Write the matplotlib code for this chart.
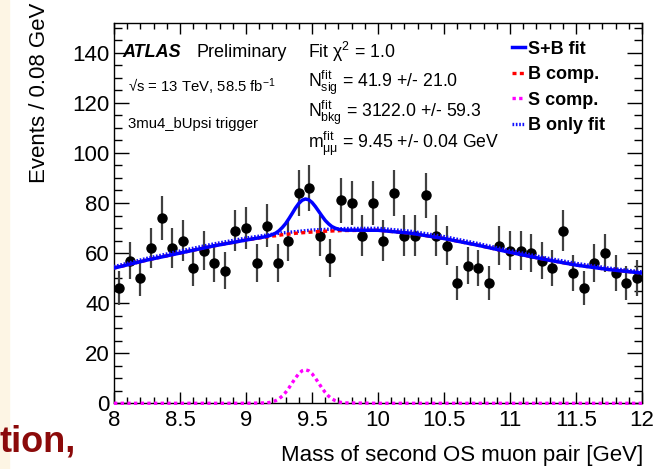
import numpy as np
import matplotlib
matplotlib.use('Agg')
import matplotlib.pyplot as plt
from matplotlib.ticker import MultipleLocator
from matplotlib.patches import Rectangle

plt.rcParams['font.family'] = ['Liberation Sans', 'DejaVu Sans']
plt.rcParams['mathtext.fontset'] = 'custom'
plt.rcParams['mathtext.rm'] = 'Liberation Sans'
plt.rcParams['mathtext.it'] = 'Liberation Sans:italic'
plt.rcParams['mathtext.bf'] = 'Liberation Sans:bold'

# histogram, 50 bins of 0.08 GeV between 8 and 12
edges = np.linspace(8.0, 12.0, 51)
counts = [46, 57, 50, 62, 74, 62, 65, 54, 61, 56,
          53, 69, 70, 56, 71, 56, 65, 84, 86, 67,
          58, 81, 80, 67, 80, 65, 84, 67, 67, 83,
          67, 63, 48, 55, 54, 48, 63, 61, 61, 60,
          57, 54, 69, 52, 46, 56, 60, 52, 48, 50]

# fit curves
curve_x = [8.0, 8.25, 8.5, 8.75, 9.0,
           9.15, 9.175, 9.2, 9.225, 9.25, 9.275, 9.3, 9.325, 9.35, 9.375,
           9.4, 9.425, 9.45, 9.475, 9.5, 9.525, 9.55, 9.575, 9.6, 9.625,
           9.65, 9.675, 9.7, 9.725, 9.75,
           10.0, 10.25, 10.5, 10.75, 11.0, 11.25, 11.5, 11.75, 12.0]
b_comp = [54.0, 57.2, 60.0, 62.8, 65.2,
          66.4, 66.6, 66.8, 66.9, 67.1, 67.3, 67.4, 67.6, 67.7, 67.9,
          68.0, 68.1, 68.2, 68.3, 68.4, 68.5, 68.6, 68.7, 68.7, 68.8,
          68.8, 68.9, 68.9, 69.0, 69.0,
          69.1, 67.9, 65.8, 63.2, 60.3, 57.6, 55.2, 53.4, 52.0]
s_comp = [0, 0, 0, 0, 0,
          0.15, 0.31, 0.59, 1.07, 1.81, 2.90, 4.35, 6.13, 8.13, 10.11,
          11.83, 12.99, 13.4, 12.99, 11.83, 10.11, 8.13, 6.13, 4.35, 2.90,
          1.81, 1.07, 0.59, 0.31, 0.15,
          0, 0, 0, 0, 0, 0, 0, 0, 0]
bonly_x = [8.0, 8.25, 8.5, 8.75, 9.0, 9.25, 9.5, 9.75, 10.0,
           10.25, 10.5, 10.75, 11.0, 11.25, 11.5, 11.75, 12.0]
b_only = [54.6, 57.9, 60.8, 63.6, 66.0, 67.9, 69.2, 69.8, 69.9,
          68.7, 66.6, 63.9, 61.0, 58.3, 55.9, 54.0, 52.5]

centres = 0.5 * (edges[:-1] + edges[1:])
errs = np.sqrt(counts)
s_plus_b = np.array(b_comp) + np.array(s_comp)

W, H = 657, 469
fig = plt.figure(figsize=(W / 100, H / 100), dpi=100)
fig.add_artist(Rectangle((0, 0), 9 / W, 1, transform=fig.transFigure,
                         color='#fdf5e4', zorder=0))
ax = fig.add_axes([114 / W, 1 - 403.3 / H, 528 / W, 380.6 / H])

ax.errorbar(centres, counts, yerr=errs, fmt='o', color='black', ecolor='0.25',
            elinewidth=1.6, markersize=6.5, capsize=0, zorder=2)

l_bonly, = ax.plot(bonly_x, b_only, color='#1010ff', lw=2.4,
                   linestyle=(0, (0.5, 0.5)), label='B only fit', zorder=3)
l_b, = ax.plot(curve_x, b_comp, color='red', lw=2.4,
               linestyle=(0, (1.2, 1.0)), label='B comp.', zorder=4)
l_s, = ax.plot(curve_x, s_comp, color='magenta', lw=2.4,
               linestyle=(0, (1.0, 1.0)), label='S comp.', zorder=4, clip_on=False)
l_sb, = ax.plot(curve_x, s_plus_b, color='blue', lw=2.5, label='S+B fit', zorder=5)

ax.set_xlim(8, 12)
ax.set_ylim(0, 152)
ax.xaxis.set_major_locator(MultipleLocator(0.5))
ax.xaxis.set_minor_locator(MultipleLocator(0.1))
ax.yaxis.set_major_locator(MultipleLocator(20))
ax.yaxis.set_minor_locator(MultipleLocator(5))
ax.xaxis.set_major_formatter(matplotlib.ticker.FuncFormatter(lambda v, p: '%g' % v))
ax.tick_params(which='both', direction='in', top=True, right=True, labelsize=16, width=1)
ax.tick_params(axis='x', which='major', length=8, pad=5)
ax.tick_params(axis='x', which='minor', length=4)
ax.tick_params(axis='y', which='major', length=11, pad=3)
ax.tick_params(axis='y', which='minor', length=5.5)
for s in ax.spines.values():
    s.set_linewidth(1)

leg = ax.legend(handles=[l_sb, l_b, l_s, l_bonly], loc='upper left',
                bbox_to_anchor=(0.753, 0.953), frameon=False, borderaxespad=0,
                borderpad=0, handlelength=0.75, handletextpad=0.15,
                labelspacing=0.47, prop={'weight': 'bold', 'size': 13})

def ftext(px, py, s, **kw):
    fig.text(px / W, 1 - py / H, s, va='baseline', **kw)

ftext(122, 57, 'ATLAS', fontsize=13, weight='bold', style='italic')
ftext(196, 57, 'Preliminary', fontsize=13)
ftext(128, 92, '√s = 13 TeV, 58.5 fb$^{-1}$', fontsize=10.7)
ftext(128, 128, '3mu4_bUpsi trigger', fontsize=10.7)
ftext(308, 58, 'Fit χ$^{2}$ = 1.0', fontsize=12.7)
ftext(308, 87, r'N$^{\mathrm{fit}}_{\mathrm{sig}}$ = 41.9 +/- 21.0', fontsize=12.7)
ftext(308, 117, r'N$^{\mathrm{fit}}_{\mathrm{bkg}}$ = 3122.0 +/- 59.3', fontsize=12.7)
ftext(308, 148, r'm$^{\mathrm{fit}}_{\mathrm{μμ}}$ = 9.45 +/- 0.04 GeV', fontsize=12.7)

fig.text(40 / W, 1 - 3 / H, 'Events / 0.08 GeV', rotation=90, ha='center',
         va='top', fontsize=16)
fig.text(643 / W, 1 - 455 / H, 'Mass of second OS muon pair [GeV]', ha='right',
         va='center', fontsize=16)
fig.text(0, 1 - 451 / H, 'tion,', color='#8b0a0a', fontsize=26,
         weight='bold', va='baseline')

fig.savefig('out.png', dpi=100)
